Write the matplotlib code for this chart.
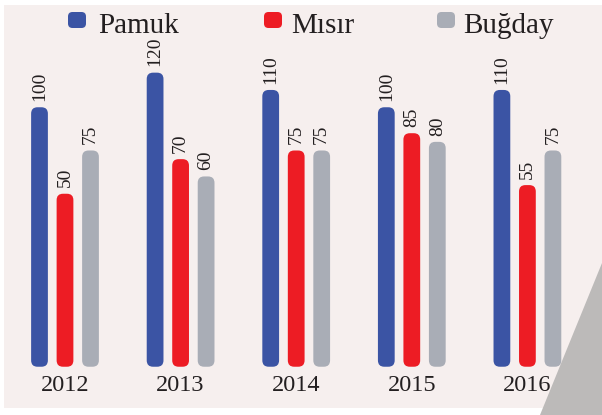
import numpy as np
import matplotlib
matplotlib.use('Agg')
import matplotlib.pyplot as plt
from matplotlib.patches import FancyBboxPatch, Rectangle, Polygon

# data
years = ['2012', '2013', '2014', '2015', '2016']
pamuk = [100, 120, 110, 100, 110]
misir = [50, 70, 75, 85, 55]
bugday = [75, 60, 75, 80, 75]
series = ['Pamuk', 'Mısır', 'Buğday']
colors = ['#3b54a4', '#ed1c24', '#a9adb6']

plt.rcParams['font.family'] = ['Liberation Serif', 'DejaVu Serif']
txt_color = '#231f20'

fig = plt.figure(figsize=(6.02, 4.15), dpi=100)
fig.patch.set_facecolor('white')
inch = fig.dpi_scale_trans

# page background + grey corner
fig.add_artist(Rectangle((0.04, 0.07), 5.98, 4.03, transform=inch,
                         facecolor='#f6efee', edgecolor='none', zorder=-3))
fig.add_artist(Polygon([(6.02, 1.52), (5.40, 0.0), (6.02, 0.0)], closed=True,
                       transform=inch, facecolor='#bcbab9', edgecolor='none', zorder=-2))

ax = fig.add_axes([0, 0, 1, 1])
ax.axis('off')
xlim = (-0.5623, 4.6453)
ylim = (-77.9, 162.0)
ax.set_xlim(*xlim)
ax.set_ylim(*ylim)

base = -50      # bars in the picture start well below zero
w = 0.145
off = 0.2206
aspect = ((ylim[1] - ylim[0]) / 415) / ((xlim[1] - xlim[0]) / 602)
x = np.arange(len(years))

for k, (vals, c) in enumerate(zip([pamuk, misir, bugday], colors)):
    bars = ax.bar(x + (k - 1) * off, np.array(vals) - base, bottom=base, width=w, color=c)
    for b, v in zip(bars, vals):
        b.set_visible(False)
        ax.add_patch(FancyBboxPatch((b.get_x(), b.get_y()), b.get_width(), b.get_height(),
                                    boxstyle='round,pad=0,rounding_size=0.055',
                                    mutation_aspect=aspect, fc=c, ec='none'))
        ax.annotate(str(v), (b.get_x() + b.get_width() / 2, v), xytext=(0, 4.5),
                    textcoords='offset points', rotation=90, ha='center', va='bottom',
                    fontsize=14, color=txt_color)

for i, yr in enumerate(years):
    ax.annotate(yr, (x[i], base), xytext=(0, -13.7), textcoords='offset points',
                ha='center', va='center', fontsize=17.5, color=txt_color)

# legend drawn by hand across the top
mark_x = [77, 273, 446]
text_x = [98, 291, 463]
for name, c, mx, tx in zip(series, colors, mark_x, text_x):
    fig.add_artist(FancyBboxPatch(((mx - 9) / 100, (415 - 20 - 8) / 100), 0.18, 0.16,
                                  boxstyle='round,pad=0,rounding_size=0.045',
                                  transform=inch, fc=c, ec='none'))
    fig.text(tx / 100, (415 - 33) / 100, name, transform=inch, fontsize=21,
             va='baseline', ha='left', color=txt_color)

fig.savefig('out.png', dpi=100)
